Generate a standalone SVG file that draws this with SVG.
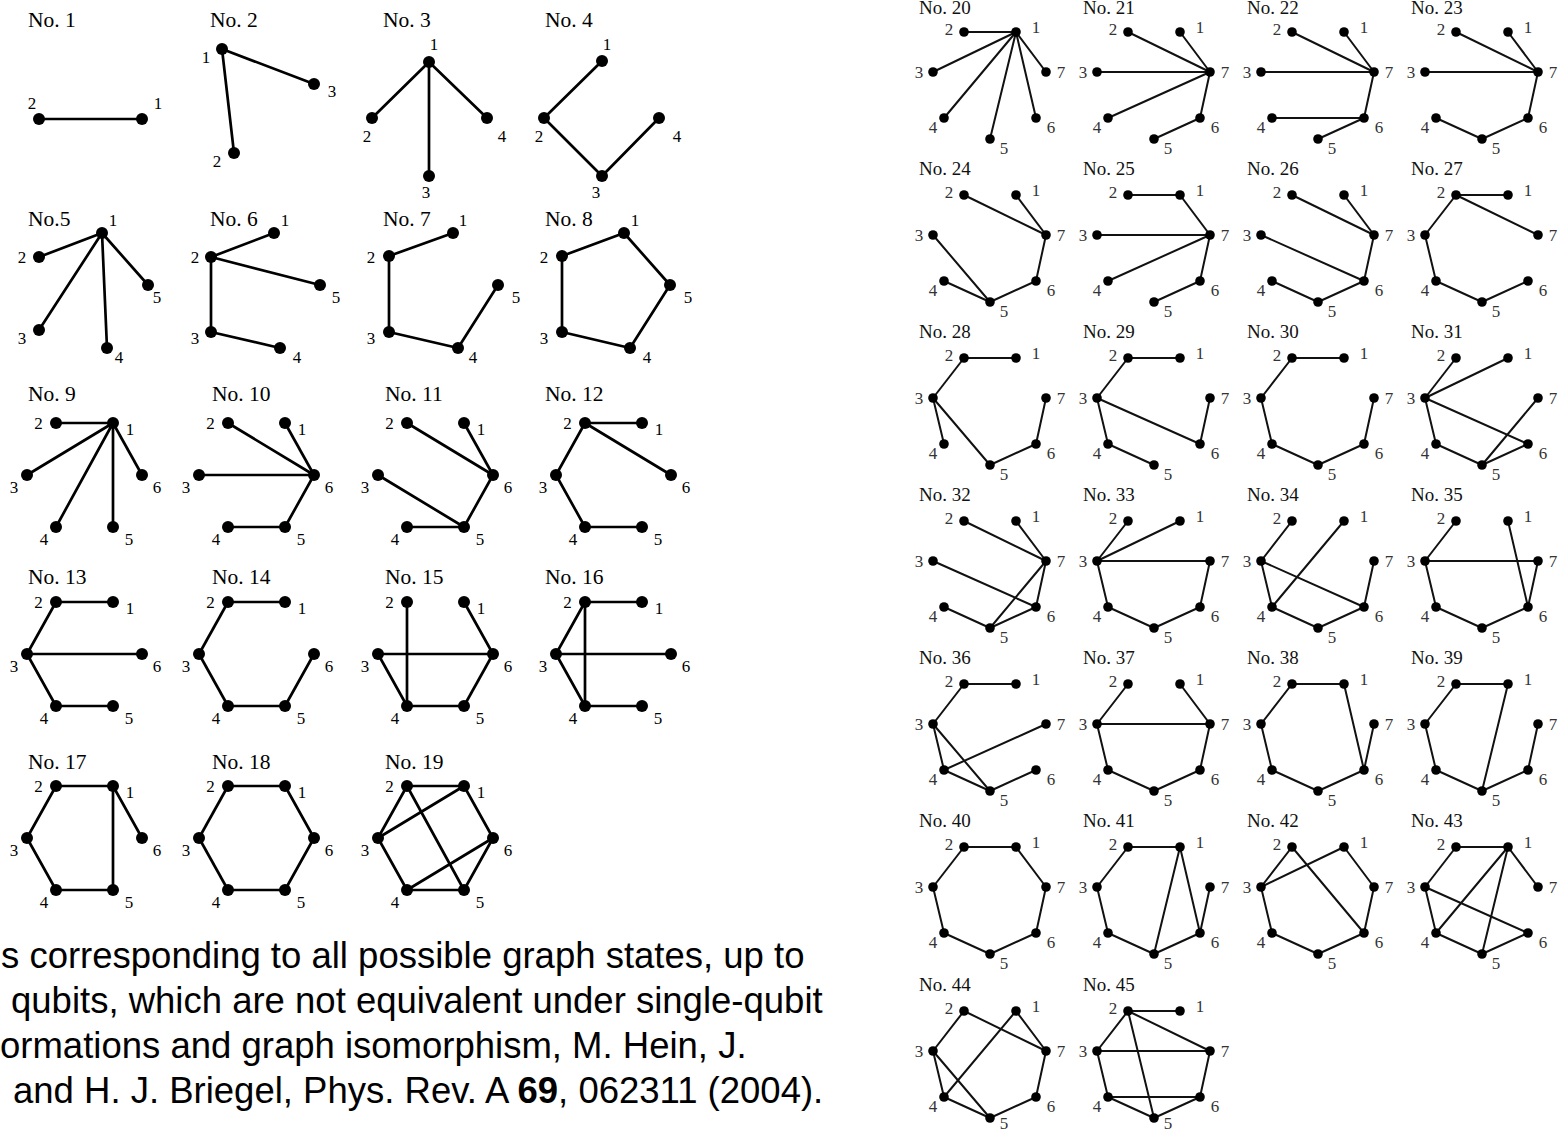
<svg xmlns="http://www.w3.org/2000/svg" width="1558" height="1130" viewBox="0 0 1558 1130">
<style>
text{font-family:"Liberation Serif","Times New Roman",serif}
.gl text{font-size:17px;text-anchor:middle;fill:#000}
.gl text.lab{font-size:21.5px;text-anchor:start}
.gl line{stroke:#000;stroke-width:2.7;stroke-linecap:round}
.gl circle{fill:#000}
.gr text{font-size:17px;text-anchor:middle;fill:#333}
.gr text.lab{font-size:19px;text-anchor:start;fill:#111}
.gr line{stroke:#111;stroke-width:2;stroke-linecap:round}
.gr circle{fill:#000}
.cap{font-family:"Liberation Sans",Arial,sans-serif;font-size:36.5px;fill:#000}
</style>
<rect width="1558" height="1130" fill="#fff"/>

<!-- ===== Left: graphs 1-8 (absolute coordinates) ===== -->
<g id="g1" class="gl">
<text class="lab" x="28" y="27">No. 1</text>
<g id="g1-edges"><line x1="39" y1="119" x2="142" y2="119"/></g>
<g id="g1-n2"><circle cx="39" cy="119" r="6"/><text x="32" y="109">2</text></g>
<g id="g1-n1"><circle cx="142" cy="119" r="6"/><text x="158" y="109">1</text></g>
</g>

<g id="g2" class="gl">
<text class="lab" x="210" y="27">No. 2</text>
<g id="g2-edges"><line x1="222" y1="49" x2="314" y2="84"/><line x1="222" y1="49" x2="234" y2="153"/></g>
<g id="g2-n1"><circle cx="222" cy="49" r="6"/><text x="206" y="63">1</text></g>
<g id="g2-n3"><circle cx="314" cy="84" r="6"/><text x="332" y="97">3</text></g>
<g id="g2-n2"><circle cx="234" cy="153" r="6"/><text x="217" y="167">2</text></g>
</g>

<g id="g3" class="gl">
<text class="lab" x="383" y="27">No. 3</text>
<g id="g3-edges"><line x1="429" y1="62" x2="372" y2="118"/><line x1="429" y1="62" x2="429" y2="176"/><line x1="429" y1="62" x2="487" y2="118"/></g>
<g id="g3-n1"><circle cx="429" cy="62" r="6"/><text x="434" y="50">1</text></g>
<g id="g3-n2"><circle cx="372" cy="118" r="6"/><text x="367" y="142">2</text></g>
<g id="g3-n4"><circle cx="487" cy="118" r="6"/><text x="502" y="142">4</text></g>
<g id="g3-n3"><circle cx="429" cy="176" r="6"/><text x="426" y="198">3</text></g>
</g>

<g id="g4" class="gl">
<text class="lab" x="545" y="27">No. 4</text>
<g id="g4-edges"><line x1="602" y1="61" x2="544" y2="118"/><line x1="544" y1="118" x2="602" y2="176"/><line x1="602" y1="176" x2="659" y2="118"/></g>
<g id="g4-n1"><circle cx="602" cy="61" r="6"/><text x="607" y="50">1</text></g>
<g id="g4-n2"><circle cx="544" cy="118" r="6"/><text x="539" y="142">2</text></g>
<g id="g4-n4"><circle cx="659" cy="118" r="6"/><text x="677" y="142">4</text></g>
<g id="g4-n3"><circle cx="602" cy="176" r="6"/><text x="596" y="198">3</text></g>
</g>

<g id="g5" class="gl">
<text class="lab" x="28" y="226">No.5</text>
<g id="g5-edges"><line x1="102" y1="233" x2="39" y2="257"/><line x1="102" y1="233" x2="39" y2="330"/><line x1="102" y1="233" x2="107" y2="348"/><line x1="102" y1="233" x2="148" y2="285"/></g>
<g id="g5-n1"><circle cx="102" cy="233" r="6"/><text x="113" y="226">1</text></g>
<g id="g5-n2"><circle cx="39" cy="257" r="6"/><text x="22" y="263">2</text></g>
<g id="g5-n5"><circle cx="148" cy="285" r="6"/><text x="157" y="303">5</text></g>
<g id="g5-n3"><circle cx="39" cy="330" r="6"/><text x="22" y="344">3</text></g>
<g id="g5-n4"><circle cx="107" cy="348" r="6"/><text x="119" y="363">4</text></g>
</g>

<g id="g6" class="gl">
<text class="lab" x="210" y="226">No. 6</text>
<g id="g6-edges"><line x1="211" y1="257" x2="274" y2="233"/><line x1="211" y1="257" x2="320" y2="285"/><line x1="211" y1="257" x2="211" y2="332"/><line x1="211" y1="332" x2="280" y2="348"/></g>
<g id="g6-n1"><circle cx="274" cy="233" r="6"/><text x="285" y="226">1</text></g>
<g id="g6-n2"><circle cx="211" cy="257" r="6"/><text x="195" y="263">2</text></g>
<g id="g6-n5"><circle cx="320" cy="285" r="6"/><text x="336" y="303">5</text></g>
<g id="g6-n3"><circle cx="211" cy="332" r="6"/><text x="195" y="344">3</text></g>
<g id="g6-n4"><circle cx="280" cy="348" r="6"/><text x="297" y="363">4</text></g>
</g>

<g id="g7" class="gl">
<text class="lab" x="383" y="226">No. 7</text>
<g id="g7-edges"><line x1="389" y1="256" x2="453" y2="233"/><line x1="389" y1="256" x2="389" y2="332"/><line x1="389" y1="332" x2="458" y2="348"/><line x1="458" y1="348" x2="498" y2="285"/></g>
<g id="g7-n1"><circle cx="453" cy="233" r="6"/><text x="463" y="226">1</text></g>
<g id="g7-n2"><circle cx="389" cy="256" r="6"/><text x="371" y="263">2</text></g>
<g id="g7-n5"><circle cx="498" cy="285" r="6"/><text x="516" y="303">5</text></g>
<g id="g7-n3"><circle cx="389" cy="332" r="6"/><text x="371" y="344">3</text></g>
<g id="g7-n4"><circle cx="458" cy="348" r="6"/><text x="473" y="363">4</text></g>
</g>

<g id="g8" class="gl">
<text class="lab" x="545" y="226">No. 8</text>
<g id="g8-edges"><line x1="624" y1="233" x2="562" y2="256"/><line x1="562" y1="256" x2="562" y2="332"/><line x1="562" y1="332" x2="630" y2="348"/><line x1="630" y1="348" x2="670" y2="285"/><line x1="670" y1="285" x2="624" y2="233"/></g>
<g id="g8-n1"><circle cx="624" cy="233" r="6"/><text x="635" y="226">1</text></g>
<g id="g8-n2"><circle cx="562" cy="256" r="6"/><text x="544" y="263">2</text></g>
<g id="g8-n5"><circle cx="670" cy="285" r="6"/><text x="688" y="303">5</text></g>
<g id="g8-n3"><circle cx="562" cy="332" r="6"/><text x="544" y="344">3</text></g>
<g id="g8-n4"><circle cx="630" cy="348" r="6"/><text x="647" y="363">4</text></g>
</g>

<!-- ===== Left: graphs 9-19 (6-node template) ===== -->
<g id="g9" class="gl" transform="translate(27 423)">
<text class="lab" x="1" y="-22">No. 9</text>
<g id="g9-edges"><line x1="86" y1="0" x2="29" y2="0"/><line x1="86" y1="0" x2="0" y2="52"/><line x1="86" y1="0" x2="29" y2="104"/><line x1="86" y1="0" x2="86" y2="104"/><line x1="86" y1="0" x2="115" y2="52"/></g>
<g id="g9-n1"><circle cx="86" cy="0" r="6"/><text x="103" y="12">1</text></g>
<g id="g9-n2"><circle cx="29" cy="0" r="6"/><text x="11.5" y="6">2</text></g>
<g id="g9-n3"><circle cx="0" cy="52" r="6"/><text x="-13" y="70">3</text></g>
<g id="g9-n4"><circle cx="29" cy="104" r="6"/><text x="17" y="122">4</text></g>
<g id="g9-n5"><circle cx="86" cy="104" r="6"/><text x="102" y="122">5</text></g>
<g id="g9-n6"><circle cx="115" cy="52" r="6"/><text x="130" y="70">6</text></g>
</g>

<g id="g10" class="gl" transform="translate(199 423)">
<text class="lab" x="13" y="-22">No. 10</text>
<g id="g10-edges"><line x1="115" y1="52" x2="29" y2="0"/><line x1="115" y1="52" x2="86" y2="0"/><line x1="115" y1="52" x2="0" y2="52"/><line x1="115" y1="52" x2="86" y2="104"/><line x1="86" y1="104" x2="29" y2="104"/></g>
<g id="g10-n1"><circle cx="86" cy="0" r="6"/><text x="103" y="12">1</text></g>
<g id="g10-n2"><circle cx="29" cy="0" r="6"/><text x="11.5" y="6">2</text></g>
<g id="g10-n3"><circle cx="0" cy="52" r="6"/><text x="-13" y="70">3</text></g>
<g id="g10-n4"><circle cx="29" cy="104" r="6"/><text x="17" y="122">4</text></g>
<g id="g10-n5"><circle cx="86" cy="104" r="6"/><text x="102" y="122">5</text></g>
<g id="g10-n6"><circle cx="115" cy="52" r="6"/><text x="130" y="70">6</text></g>
</g>

<g id="g11" class="gl" transform="translate(378 423)">
<text class="lab" x="7" y="-22">No. 11</text>
<g id="g11-edges"><line x1="29" y1="0" x2="115" y2="52"/><line x1="86" y1="0" x2="115" y2="52"/><line x1="0" y1="52" x2="86" y2="104"/><line x1="115" y1="52" x2="86" y2="104"/><line x1="29" y1="104" x2="86" y2="104"/></g>
<g id="g11-n1"><circle cx="86" cy="0" r="6"/><text x="103" y="12">1</text></g>
<g id="g11-n2"><circle cx="29" cy="0" r="6"/><text x="11.5" y="6">2</text></g>
<g id="g11-n3"><circle cx="0" cy="52" r="6"/><text x="-13" y="70">3</text></g>
<g id="g11-n4"><circle cx="29" cy="104" r="6"/><text x="17" y="122">4</text></g>
<g id="g11-n5"><circle cx="86" cy="104" r="6"/><text x="102" y="122">5</text></g>
<g id="g11-n6"><circle cx="115" cy="52" r="6"/><text x="130" y="70">6</text></g>
</g>

<g id="g12" class="gl" transform="translate(556 423)">
<text class="lab" x="-11" y="-22">No. 12</text>
<g id="g12-edges"><line x1="29" y1="0" x2="86" y2="0"/><line x1="29" y1="0" x2="115" y2="52"/><line x1="29" y1="0" x2="0" y2="52"/><line x1="0" y1="52" x2="29" y2="104"/><line x1="29" y1="104" x2="86" y2="104"/></g>
<g id="g12-n1"><circle cx="86" cy="0" r="6"/><text x="103" y="12">1</text></g>
<g id="g12-n2"><circle cx="29" cy="0" r="6"/><text x="11.5" y="6">2</text></g>
<g id="g12-n3"><circle cx="0" cy="52" r="6"/><text x="-13" y="70">3</text></g>
<g id="g12-n4"><circle cx="29" cy="104" r="6"/><text x="17" y="122">4</text></g>
<g id="g12-n5"><circle cx="86" cy="104" r="6"/><text x="102" y="122">5</text></g>
<g id="g12-n6"><circle cx="115" cy="52" r="6"/><text x="130" y="70">6</text></g>
</g>

<g id="g13" class="gl" transform="translate(27 602)">
<text class="lab" x="1" y="-18">No. 13</text>
<g id="g13-edges"><line x1="29" y1="0" x2="86" y2="0"/><line x1="29" y1="0" x2="0" y2="52"/><line x1="0" y1="52" x2="115" y2="52"/><line x1="0" y1="52" x2="29" y2="104"/><line x1="29" y1="104" x2="86" y2="104"/></g>
<g id="g13-n1"><circle cx="86" cy="0" r="6"/><text x="103" y="12">1</text></g>
<g id="g13-n2"><circle cx="29" cy="0" r="6"/><text x="11.5" y="6">2</text></g>
<g id="g13-n3"><circle cx="0" cy="52" r="6"/><text x="-13" y="70">3</text></g>
<g id="g13-n4"><circle cx="29" cy="104" r="6"/><text x="17" y="122">4</text></g>
<g id="g13-n5"><circle cx="86" cy="104" r="6"/><text x="102" y="122">5</text></g>
<g id="g13-n6"><circle cx="115" cy="52" r="6"/><text x="130" y="70">6</text></g>
</g>

<g id="g14" class="gl" transform="translate(199 602)">
<text class="lab" x="13" y="-18">No. 14</text>
<g id="g14-edges"><line x1="29" y1="0" x2="86" y2="0"/><line x1="29" y1="0" x2="0" y2="52"/><line x1="0" y1="52" x2="29" y2="104"/><line x1="29" y1="104" x2="86" y2="104"/><line x1="86" y1="104" x2="115" y2="52"/></g>
<g id="g14-n1"><circle cx="86" cy="0" r="6"/><text x="103" y="12">1</text></g>
<g id="g14-n2"><circle cx="29" cy="0" r="6"/><text x="11.5" y="6">2</text></g>
<g id="g14-n3"><circle cx="0" cy="52" r="6"/><text x="-13" y="70">3</text></g>
<g id="g14-n4"><circle cx="29" cy="104" r="6"/><text x="17" y="122">4</text></g>
<g id="g14-n5"><circle cx="86" cy="104" r="6"/><text x="102" y="122">5</text></g>
<g id="g14-n6"><circle cx="115" cy="52" r="6"/><text x="130" y="70">6</text></g>
</g>

<g id="g15" class="gl" transform="translate(378 602)">
<text class="lab" x="7" y="-18">No. 15</text>
<g id="g15-edges"><line x1="29" y1="0" x2="29" y2="104"/><line x1="86" y1="0" x2="115" y2="52"/><line x1="0" y1="52" x2="115" y2="52"/><line x1="0" y1="52" x2="29" y2="104"/><line x1="29" y1="104" x2="86" y2="104"/><line x1="86" y1="104" x2="115" y2="52"/></g>
<g id="g15-n1"><circle cx="86" cy="0" r="6"/><text x="103" y="12">1</text></g>
<g id="g15-n2"><circle cx="29" cy="0" r="6"/><text x="11.5" y="6">2</text></g>
<g id="g15-n3"><circle cx="0" cy="52" r="6"/><text x="-13" y="70">3</text></g>
<g id="g15-n4"><circle cx="29" cy="104" r="6"/><text x="17" y="122">4</text></g>
<g id="g15-n5"><circle cx="86" cy="104" r="6"/><text x="102" y="122">5</text></g>
<g id="g15-n6"><circle cx="115" cy="52" r="6"/><text x="130" y="70">6</text></g>
</g>

<g id="g16" class="gl" transform="translate(556 602)">
<text class="lab" x="-11" y="-18">No. 16</text>
<g id="g16-edges"><line x1="29" y1="0" x2="86" y2="0"/><line x1="29" y1="0" x2="0" y2="52"/><line x1="29" y1="0" x2="29" y2="104"/><line x1="0" y1="52" x2="115" y2="52"/><line x1="0" y1="52" x2="29" y2="104"/><line x1="29" y1="104" x2="86" y2="104"/></g>
<g id="g16-n1"><circle cx="86" cy="0" r="6"/><text x="103" y="12">1</text></g>
<g id="g16-n2"><circle cx="29" cy="0" r="6"/><text x="11.5" y="6">2</text></g>
<g id="g16-n3"><circle cx="0" cy="52" r="6"/><text x="-13" y="70">3</text></g>
<g id="g16-n4"><circle cx="29" cy="104" r="6"/><text x="17" y="122">4</text></g>
<g id="g16-n5"><circle cx="86" cy="104" r="6"/><text x="102" y="122">5</text></g>
<g id="g16-n6"><circle cx="115" cy="52" r="6"/><text x="130" y="70">6</text></g>
</g>

<g id="g17" class="gl" transform="translate(27 786)">
<text class="lab" x="1" y="-17">No. 17</text>
<g id="g17-edges"><line x1="29" y1="0" x2="86" y2="0"/><line x1="29" y1="0" x2="0" y2="52"/><line x1="0" y1="52" x2="29" y2="104"/><line x1="29" y1="104" x2="86" y2="104"/><line x1="86" y1="0" x2="86" y2="104"/><line x1="86" y1="0" x2="115" y2="52"/></g>
<g id="g17-n1"><circle cx="86" cy="0" r="6"/><text x="103" y="12">1</text></g>
<g id="g17-n2"><circle cx="29" cy="0" r="6"/><text x="11.5" y="6">2</text></g>
<g id="g17-n3"><circle cx="0" cy="52" r="6"/><text x="-13" y="70">3</text></g>
<g id="g17-n4"><circle cx="29" cy="104" r="6"/><text x="17" y="122">4</text></g>
<g id="g17-n5"><circle cx="86" cy="104" r="6"/><text x="102" y="122">5</text></g>
<g id="g17-n6"><circle cx="115" cy="52" r="6"/><text x="130" y="70">6</text></g>
</g>

<g id="g18" class="gl" transform="translate(199 786)">
<text class="lab" x="13" y="-17">No. 18</text>
<g id="g18-edges"><line x1="29" y1="0" x2="86" y2="0"/><line x1="29" y1="0" x2="0" y2="52"/><line x1="0" y1="52" x2="29" y2="104"/><line x1="29" y1="104" x2="86" y2="104"/><line x1="86" y1="104" x2="115" y2="52"/><line x1="115" y1="52" x2="86" y2="0"/></g>
<g id="g18-n1"><circle cx="86" cy="0" r="6"/><text x="103" y="12">1</text></g>
<g id="g18-n2"><circle cx="29" cy="0" r="6"/><text x="11.5" y="6">2</text></g>
<g id="g18-n3"><circle cx="0" cy="52" r="6"/><text x="-13" y="70">3</text></g>
<g id="g18-n4"><circle cx="29" cy="104" r="6"/><text x="17" y="122">4</text></g>
<g id="g18-n5"><circle cx="86" cy="104" r="6"/><text x="102" y="122">5</text></g>
<g id="g18-n6"><circle cx="115" cy="52" r="6"/><text x="130" y="70">6</text></g>
</g>

<g id="g19" class="gl" transform="translate(378 786)">
<text class="lab" x="7" y="-17">No. 19</text>
<g id="g19-edges"><line x1="29" y1="0" x2="86" y2="0"/><line x1="29" y1="0" x2="0" y2="52"/><line x1="29" y1="0" x2="86" y2="104"/><line x1="86" y1="0" x2="0" y2="52"/><line x1="86" y1="0" x2="115" y2="52"/><line x1="0" y1="52" x2="29" y2="104"/><line x1="29" y1="104" x2="86" y2="104"/><line x1="29" y1="104" x2="115" y2="52"/><line x1="86" y1="104" x2="115" y2="52"/></g>
<g id="g19-n1"><circle cx="86" cy="0" r="6"/><text x="103" y="12">1</text></g>
<g id="g19-n2"><circle cx="29" cy="0" r="6"/><text x="11.5" y="6">2</text></g>
<g id="g19-n3"><circle cx="0" cy="52" r="6"/><text x="-13" y="70">3</text></g>
<g id="g19-n4"><circle cx="29" cy="104" r="6"/><text x="17" y="122">4</text></g>
<g id="g19-n5"><circle cx="86" cy="104" r="6"/><text x="102" y="122">5</text></g>
<g id="g19-n6"><circle cx="115" cy="52" r="6"/><text x="130" y="70">6</text></g>
</g>

<!-- ===== Caption ===== -->
<g id="caption">
<text class="cap" x="1" y="968">s corresponding to all possible graph states, up to</text>
<text class="cap" x="11" y="1013">qubits, which are not equivalent under single-qubit</text>
<text class="cap" x="0" y="1058">ormations and graph isomorphism, M. Hein, J.</text>
<text class="cap" x="13" y="1103">and H. J. Briegel, Phys. Rev. A <tspan font-weight="bold">69</tspan>, 062311 (2004).</text>
</g>

<!-- ===== Right: graphs 20-45 (7-node template) ===== -->
<g id="g20" class="gr" transform="translate(933 32)">
<text class="lab" x="-14" y="-18">No. 20</text>
<g id="g20-edges"><line x1="83" y1="0" x2="31" y2="0"/><line x1="83" y1="0" x2="0" y2="40"/><line x1="83" y1="0" x2="11" y2="86"/><line x1="83" y1="0" x2="57" y2="107"/><line x1="83" y1="0" x2="103" y2="86"/><line x1="83" y1="0" x2="113" y2="40"/></g>
<g id="g20-n1"><circle cx="83" cy="0" r="4.8"/><text x="103" y="1">1</text></g>
<g id="g20-n2"><circle cx="31" cy="0" r="4.8"/><text x="16" y="3">2</text></g>
<g id="g20-n3"><circle cx="0" cy="40" r="4.8"/><text x="-14" y="46">3</text></g>
<g id="g20-n4"><circle cx="11" cy="86" r="4.8"/><text x="0" y="101">4</text></g>
<g id="g20-n5"><circle cx="57" cy="107" r="4.8"/><text x="71" y="122">5</text></g>
<g id="g20-n6"><circle cx="103" cy="86" r="4.8"/><text x="118" y="101">6</text></g>
<g id="g20-n7"><circle cx="113" cy="40" r="4.8"/><text x="128" y="46">7</text></g>
</g>

<g id="g21" class="gr" transform="translate(1097 32)">
<text class="lab" x="-14" y="-18">No. 21</text>
<g id="g21-edges"><line x1="31" y1="0" x2="113" y2="40"/><line x1="83" y1="0" x2="113" y2="40"/><line x1="0" y1="40" x2="113" y2="40"/><line x1="11" y1="86" x2="113" y2="40"/><line x1="103" y1="86" x2="113" y2="40"/><line x1="57" y1="107" x2="103" y2="86"/></g>
<g id="g21-n1"><circle cx="83" cy="0" r="4.8"/><text x="103" y="1">1</text></g>
<g id="g21-n2"><circle cx="31" cy="0" r="4.8"/><text x="16" y="3">2</text></g>
<g id="g21-n3"><circle cx="0" cy="40" r="4.8"/><text x="-14" y="46">3</text></g>
<g id="g21-n4"><circle cx="11" cy="86" r="4.8"/><text x="0" y="101">4</text></g>
<g id="g21-n5"><circle cx="57" cy="107" r="4.8"/><text x="71" y="122">5</text></g>
<g id="g21-n6"><circle cx="103" cy="86" r="4.8"/><text x="118" y="101">6</text></g>
<g id="g21-n7"><circle cx="113" cy="40" r="4.8"/><text x="128" y="46">7</text></g>
</g>

<g id="g22" class="gr" transform="translate(1261 32)">
<text class="lab" x="-14" y="-18">No. 22</text>
<g id="g22-edges"><line x1="31" y1="0" x2="113" y2="40"/><line x1="83" y1="0" x2="113" y2="40"/><line x1="0" y1="40" x2="113" y2="40"/><line x1="103" y1="86" x2="113" y2="40"/><line x1="11" y1="86" x2="103" y2="86"/><line x1="57" y1="107" x2="103" y2="86"/></g>
<g id="g22-n1"><circle cx="83" cy="0" r="4.8"/><text x="103" y="1">1</text></g>
<g id="g22-n2"><circle cx="31" cy="0" r="4.8"/><text x="16" y="3">2</text></g>
<g id="g22-n3"><circle cx="0" cy="40" r="4.8"/><text x="-14" y="46">3</text></g>
<g id="g22-n4"><circle cx="11" cy="86" r="4.8"/><text x="0" y="101">4</text></g>
<g id="g22-n5"><circle cx="57" cy="107" r="4.8"/><text x="71" y="122">5</text></g>
<g id="g22-n6"><circle cx="103" cy="86" r="4.8"/><text x="118" y="101">6</text></g>
<g id="g22-n7"><circle cx="113" cy="40" r="4.8"/><text x="128" y="46">7</text></g>
</g>

<g id="g23" class="gr" transform="translate(1425 32)">
<text class="lab" x="-14" y="-18">No. 23</text>
<g id="g23-edges"><line x1="31" y1="0" x2="113" y2="40"/><line x1="83" y1="0" x2="113" y2="40"/><line x1="0" y1="40" x2="113" y2="40"/><line x1="103" y1="86" x2="113" y2="40"/><line x1="57" y1="107" x2="103" y2="86"/><line x1="11" y1="86" x2="57" y2="107"/></g>
<g id="g23-n1"><circle cx="83" cy="0" r="4.8"/><text x="103" y="1">1</text></g>
<g id="g23-n2"><circle cx="31" cy="0" r="4.8"/><text x="16" y="3">2</text></g>
<g id="g23-n3"><circle cx="0" cy="40" r="4.8"/><text x="-14" y="46">3</text></g>
<g id="g23-n4"><circle cx="11" cy="86" r="4.8"/><text x="0" y="101">4</text></g>
<g id="g23-n5"><circle cx="57" cy="107" r="4.8"/><text x="71" y="122">5</text></g>
<g id="g23-n6"><circle cx="103" cy="86" r="4.8"/><text x="118" y="101">6</text></g>
<g id="g23-n7"><circle cx="113" cy="40" r="4.8"/><text x="128" y="46">7</text></g>
</g>

<g id="g24" class="gr" transform="translate(933 195)">
<text class="lab" x="-14" y="-20">No. 24</text>
<g id="g24-edges"><line x1="31" y1="0" x2="113" y2="40"/><line x1="83" y1="0" x2="113" y2="40"/><line x1="103" y1="86" x2="113" y2="40"/><line x1="57" y1="107" x2="103" y2="86"/><line x1="0" y1="40" x2="57" y2="107"/><line x1="11" y1="86" x2="57" y2="107"/></g>
<g id="g24-n1"><circle cx="83" cy="0" r="4.8"/><text x="103" y="1">1</text></g>
<g id="g24-n2"><circle cx="31" cy="0" r="4.8"/><text x="16" y="3">2</text></g>
<g id="g24-n3"><circle cx="0" cy="40" r="4.8"/><text x="-14" y="46">3</text></g>
<g id="g24-n4"><circle cx="11" cy="86" r="4.8"/><text x="0" y="101">4</text></g>
<g id="g24-n5"><circle cx="57" cy="107" r="4.8"/><text x="71" y="122">5</text></g>
<g id="g24-n6"><circle cx="103" cy="86" r="4.8"/><text x="118" y="101">6</text></g>
<g id="g24-n7"><circle cx="113" cy="40" r="4.8"/><text x="128" y="46">7</text></g>
</g>

<g id="g25" class="gr" transform="translate(1097 195)">
<text class="lab" x="-14" y="-20">No. 25</text>
<g id="g25-edges"><line x1="83" y1="0" x2="31" y2="0"/><line x1="83" y1="0" x2="113" y2="40"/><line x1="0" y1="40" x2="113" y2="40"/><line x1="11" y1="86" x2="113" y2="40"/><line x1="103" y1="86" x2="113" y2="40"/><line x1="57" y1="107" x2="103" y2="86"/></g>
<g id="g25-n1"><circle cx="83" cy="0" r="4.8"/><text x="103" y="1">1</text></g>
<g id="g25-n2"><circle cx="31" cy="0" r="4.8"/><text x="16" y="3">2</text></g>
<g id="g25-n3"><circle cx="0" cy="40" r="4.8"/><text x="-14" y="46">3</text></g>
<g id="g25-n4"><circle cx="11" cy="86" r="4.8"/><text x="0" y="101">4</text></g>
<g id="g25-n5"><circle cx="57" cy="107" r="4.8"/><text x="71" y="122">5</text></g>
<g id="g25-n6"><circle cx="103" cy="86" r="4.8"/><text x="118" y="101">6</text></g>
<g id="g25-n7"><circle cx="113" cy="40" r="4.8"/><text x="128" y="46">7</text></g>
</g>

<g id="g26" class="gr" transform="translate(1261 195)">
<text class="lab" x="-14" y="-20">No. 26</text>
<g id="g26-edges"><line x1="31" y1="0" x2="113" y2="40"/><line x1="83" y1="0" x2="113" y2="40"/><line x1="103" y1="86" x2="113" y2="40"/><line x1="0" y1="40" x2="103" y2="86"/><line x1="57" y1="107" x2="103" y2="86"/><line x1="11" y1="86" x2="57" y2="107"/></g>
<g id="g26-n1"><circle cx="83" cy="0" r="4.8"/><text x="103" y="1">1</text></g>
<g id="g26-n2"><circle cx="31" cy="0" r="4.8"/><text x="16" y="3">2</text></g>
<g id="g26-n3"><circle cx="0" cy="40" r="4.8"/><text x="-14" y="46">3</text></g>
<g id="g26-n4"><circle cx="11" cy="86" r="4.8"/><text x="0" y="101">4</text></g>
<g id="g26-n5"><circle cx="57" cy="107" r="4.8"/><text x="71" y="122">5</text></g>
<g id="g26-n6"><circle cx="103" cy="86" r="4.8"/><text x="118" y="101">6</text></g>
<g id="g26-n7"><circle cx="113" cy="40" r="4.8"/><text x="128" y="46">7</text></g>
</g>

<g id="g27" class="gr" transform="translate(1425 195)">
<text class="lab" x="-14" y="-20">No. 27</text>
<g id="g27-edges"><line x1="83" y1="0" x2="31" y2="0"/><line x1="31" y1="0" x2="113" y2="40"/><line x1="31" y1="0" x2="0" y2="40"/><line x1="0" y1="40" x2="11" y2="86"/><line x1="11" y1="86" x2="57" y2="107"/><line x1="57" y1="107" x2="103" y2="86"/></g>
<g id="g27-n1"><circle cx="83" cy="0" r="4.8"/><text x="103" y="1">1</text></g>
<g id="g27-n2"><circle cx="31" cy="0" r="4.8"/><text x="16" y="3">2</text></g>
<g id="g27-n3"><circle cx="0" cy="40" r="4.8"/><text x="-14" y="46">3</text></g>
<g id="g27-n4"><circle cx="11" cy="86" r="4.8"/><text x="0" y="101">4</text></g>
<g id="g27-n5"><circle cx="57" cy="107" r="4.8"/><text x="71" y="122">5</text></g>
<g id="g27-n6"><circle cx="103" cy="86" r="4.8"/><text x="118" y="101">6</text></g>
<g id="g27-n7"><circle cx="113" cy="40" r="4.8"/><text x="128" y="46">7</text></g>
</g>

<g id="g28" class="gr" transform="translate(933 358)">
<text class="lab" x="-14" y="-20">No. 28</text>
<g id="g28-edges"><line x1="83" y1="0" x2="31" y2="0"/><line x1="31" y1="0" x2="0" y2="40"/><line x1="0" y1="40" x2="11" y2="86"/><line x1="0" y1="40" x2="57" y2="107"/><line x1="57" y1="107" x2="103" y2="86"/><line x1="103" y1="86" x2="113" y2="40"/></g>
<g id="g28-n1"><circle cx="83" cy="0" r="4.8"/><text x="103" y="1">1</text></g>
<g id="g28-n2"><circle cx="31" cy="0" r="4.8"/><text x="16" y="3">2</text></g>
<g id="g28-n3"><circle cx="0" cy="40" r="4.8"/><text x="-14" y="46">3</text></g>
<g id="g28-n4"><circle cx="11" cy="86" r="4.8"/><text x="0" y="101">4</text></g>
<g id="g28-n5"><circle cx="57" cy="107" r="4.8"/><text x="71" y="122">5</text></g>
<g id="g28-n6"><circle cx="103" cy="86" r="4.8"/><text x="118" y="101">6</text></g>
<g id="g28-n7"><circle cx="113" cy="40" r="4.8"/><text x="128" y="46">7</text></g>
</g>

<g id="g29" class="gr" transform="translate(1097 358)">
<text class="lab" x="-14" y="-20">No. 29</text>
<g id="g29-edges"><line x1="83" y1="0" x2="31" y2="0"/><line x1="31" y1="0" x2="0" y2="40"/><line x1="0" y1="40" x2="103" y2="86"/><line x1="0" y1="40" x2="11" y2="86"/><line x1="11" y1="86" x2="57" y2="107"/><line x1="103" y1="86" x2="113" y2="40"/></g>
<g id="g29-n1"><circle cx="83" cy="0" r="4.8"/><text x="103" y="1">1</text></g>
<g id="g29-n2"><circle cx="31" cy="0" r="4.8"/><text x="16" y="3">2</text></g>
<g id="g29-n3"><circle cx="0" cy="40" r="4.8"/><text x="-14" y="46">3</text></g>
<g id="g29-n4"><circle cx="11" cy="86" r="4.8"/><text x="0" y="101">4</text></g>
<g id="g29-n5"><circle cx="57" cy="107" r="4.8"/><text x="71" y="122">5</text></g>
<g id="g29-n6"><circle cx="103" cy="86" r="4.8"/><text x="118" y="101">6</text></g>
<g id="g29-n7"><circle cx="113" cy="40" r="4.8"/><text x="128" y="46">7</text></g>
</g>

<g id="g30" class="gr" transform="translate(1261 358)">
<text class="lab" x="-14" y="-20">No. 30</text>
<g id="g30-edges"><line x1="83" y1="0" x2="31" y2="0"/><line x1="31" y1="0" x2="0" y2="40"/><line x1="0" y1="40" x2="11" y2="86"/><line x1="11" y1="86" x2="57" y2="107"/><line x1="57" y1="107" x2="103" y2="86"/><line x1="103" y1="86" x2="113" y2="40"/></g>
<g id="g30-n1"><circle cx="83" cy="0" r="4.8"/><text x="103" y="1">1</text></g>
<g id="g30-n2"><circle cx="31" cy="0" r="4.8"/><text x="16" y="3">2</text></g>
<g id="g30-n3"><circle cx="0" cy="40" r="4.8"/><text x="-14" y="46">3</text></g>
<g id="g30-n4"><circle cx="11" cy="86" r="4.8"/><text x="0" y="101">4</text></g>
<g id="g30-n5"><circle cx="57" cy="107" r="4.8"/><text x="71" y="122">5</text></g>
<g id="g30-n6"><circle cx="103" cy="86" r="4.8"/><text x="118" y="101">6</text></g>
<g id="g30-n7"><circle cx="113" cy="40" r="4.8"/><text x="128" y="46">7</text></g>
</g>

<g id="g31" class="gr" transform="translate(1425 358)">
<text class="lab" x="-14" y="-20">No. 31</text>
<g id="g31-edges"><line x1="31" y1="0" x2="0" y2="40"/><line x1="83" y1="0" x2="0" y2="40"/><line x1="0" y1="40" x2="103" y2="86"/><line x1="0" y1="40" x2="11" y2="86"/><line x1="11" y1="86" x2="57" y2="107"/><line x1="57" y1="107" x2="103" y2="86"/><line x1="57" y1="107" x2="113" y2="40"/></g>
<g id="g31-n1"><circle cx="83" cy="0" r="4.8"/><text x="103" y="1">1</text></g>
<g id="g31-n2"><circle cx="31" cy="0" r="4.8"/><text x="16" y="3">2</text></g>
<g id="g31-n3"><circle cx="0" cy="40" r="4.8"/><text x="-14" y="46">3</text></g>
<g id="g31-n4"><circle cx="11" cy="86" r="4.8"/><text x="0" y="101">4</text></g>
<g id="g31-n5"><circle cx="57" cy="107" r="4.8"/><text x="71" y="122">5</text></g>
<g id="g31-n6"><circle cx="103" cy="86" r="4.8"/><text x="118" y="101">6</text></g>
<g id="g31-n7"><circle cx="113" cy="40" r="4.8"/><text x="128" y="46">7</text></g>
</g>

<g id="g32" class="gr" transform="translate(933 521)">
<text class="lab" x="-14" y="-20">No. 32</text>
<g id="g32-edges"><line x1="31" y1="0" x2="113" y2="40"/><line x1="83" y1="0" x2="113" y2="40"/><line x1="103" y1="86" x2="113" y2="40"/><line x1="57" y1="107" x2="113" y2="40"/><line x1="0" y1="40" x2="103" y2="86"/><line x1="11" y1="86" x2="57" y2="107"/><line x1="57" y1="107" x2="103" y2="86"/></g>
<g id="g32-n1"><circle cx="83" cy="0" r="4.8"/><text x="103" y="1">1</text></g>
<g id="g32-n2"><circle cx="31" cy="0" r="4.8"/><text x="16" y="3">2</text></g>
<g id="g32-n3"><circle cx="0" cy="40" r="4.8"/><text x="-14" y="46">3</text></g>
<g id="g32-n4"><circle cx="11" cy="86" r="4.8"/><text x="0" y="101">4</text></g>
<g id="g32-n5"><circle cx="57" cy="107" r="4.8"/><text x="71" y="122">5</text></g>
<g id="g32-n6"><circle cx="103" cy="86" r="4.8"/><text x="118" y="101">6</text></g>
<g id="g32-n7"><circle cx="113" cy="40" r="4.8"/><text x="128" y="46">7</text></g>
</g>

<g id="g33" class="gr" transform="translate(1097 521)">
<text class="lab" x="-14" y="-20">No. 33</text>
<g id="g33-edges"><line x1="31" y1="0" x2="0" y2="40"/><line x1="83" y1="0" x2="0" y2="40"/><line x1="0" y1="40" x2="113" y2="40"/><line x1="0" y1="40" x2="11" y2="86"/><line x1="11" y1="86" x2="57" y2="107"/><line x1="57" y1="107" x2="103" y2="86"/><line x1="103" y1="86" x2="113" y2="40"/></g>
<g id="g33-n1"><circle cx="83" cy="0" r="4.8"/><text x="103" y="1">1</text></g>
<g id="g33-n2"><circle cx="31" cy="0" r="4.8"/><text x="16" y="3">2</text></g>
<g id="g33-n3"><circle cx="0" cy="40" r="4.8"/><text x="-14" y="46">3</text></g>
<g id="g33-n4"><circle cx="11" cy="86" r="4.8"/><text x="0" y="101">4</text></g>
<g id="g33-n5"><circle cx="57" cy="107" r="4.8"/><text x="71" y="122">5</text></g>
<g id="g33-n6"><circle cx="103" cy="86" r="4.8"/><text x="118" y="101">6</text></g>
<g id="g33-n7"><circle cx="113" cy="40" r="4.8"/><text x="128" y="46">7</text></g>
</g>

<g id="g34" class="gr" transform="translate(1261 521)">
<text class="lab" x="-14" y="-20">No. 34</text>
<g id="g34-edges"><line x1="31" y1="0" x2="0" y2="40"/><line x1="83" y1="0" x2="11" y2="86"/><line x1="0" y1="40" x2="103" y2="86"/><line x1="0" y1="40" x2="11" y2="86"/><line x1="11" y1="86" x2="57" y2="107"/><line x1="57" y1="107" x2="103" y2="86"/><line x1="103" y1="86" x2="113" y2="40"/></g>
<g id="g34-n1"><circle cx="83" cy="0" r="4.8"/><text x="103" y="1">1</text></g>
<g id="g34-n2"><circle cx="31" cy="0" r="4.8"/><text x="16" y="3">2</text></g>
<g id="g34-n3"><circle cx="0" cy="40" r="4.8"/><text x="-14" y="46">3</text></g>
<g id="g34-n4"><circle cx="11" cy="86" r="4.8"/><text x="0" y="101">4</text></g>
<g id="g34-n5"><circle cx="57" cy="107" r="4.8"/><text x="71" y="122">5</text></g>
<g id="g34-n6"><circle cx="103" cy="86" r="4.8"/><text x="118" y="101">6</text></g>
<g id="g34-n7"><circle cx="113" cy="40" r="4.8"/><text x="128" y="46">7</text></g>
</g>

<g id="g35" class="gr" transform="translate(1425 521)">
<text class="lab" x="-14" y="-20">No. 35</text>
<g id="g35-edges"><line x1="31" y1="0" x2="0" y2="40"/><line x1="0" y1="40" x2="113" y2="40"/><line x1="83" y1="0" x2="103" y2="86"/><line x1="103" y1="86" x2="113" y2="40"/><line x1="0" y1="40" x2="11" y2="86"/><line x1="11" y1="86" x2="57" y2="107"/><line x1="57" y1="107" x2="103" y2="86"/></g>
<g id="g35-n1"><circle cx="83" cy="0" r="4.8"/><text x="103" y="1">1</text></g>
<g id="g35-n2"><circle cx="31" cy="0" r="4.8"/><text x="16" y="3">2</text></g>
<g id="g35-n3"><circle cx="0" cy="40" r="4.8"/><text x="-14" y="46">3</text></g>
<g id="g35-n4"><circle cx="11" cy="86" r="4.8"/><text x="0" y="101">4</text></g>
<g id="g35-n5"><circle cx="57" cy="107" r="4.8"/><text x="71" y="122">5</text></g>
<g id="g35-n6"><circle cx="103" cy="86" r="4.8"/><text x="118" y="101">6</text></g>
<g id="g35-n7"><circle cx="113" cy="40" r="4.8"/><text x="128" y="46">7</text></g>
</g>

<g id="g36" class="gr" transform="translate(933 684)">
<text class="lab" x="-14" y="-20">No. 36</text>
<g id="g36-edges"><line x1="83" y1="0" x2="31" y2="0"/><line x1="31" y1="0" x2="0" y2="40"/><line x1="0" y1="40" x2="11" y2="86"/><line x1="0" y1="40" x2="57" y2="107"/><line x1="11" y1="86" x2="113" y2="40"/><line x1="11" y1="86" x2="57" y2="107"/><line x1="57" y1="107" x2="103" y2="86"/></g>
<g id="g36-n1"><circle cx="83" cy="0" r="4.8"/><text x="103" y="1">1</text></g>
<g id="g36-n2"><circle cx="31" cy="0" r="4.8"/><text x="16" y="3">2</text></g>
<g id="g36-n3"><circle cx="0" cy="40" r="4.8"/><text x="-14" y="46">3</text></g>
<g id="g36-n4"><circle cx="11" cy="86" r="4.8"/><text x="0" y="101">4</text></g>
<g id="g36-n5"><circle cx="57" cy="107" r="4.8"/><text x="71" y="122">5</text></g>
<g id="g36-n6"><circle cx="103" cy="86" r="4.8"/><text x="118" y="101">6</text></g>
<g id="g36-n7"><circle cx="113" cy="40" r="4.8"/><text x="128" y="46">7</text></g>
</g>

<g id="g37" class="gr" transform="translate(1097 684)">
<text class="lab" x="-14" y="-20">No. 37</text>
<g id="g37-edges"><line x1="31" y1="0" x2="0" y2="40"/><line x1="83" y1="0" x2="113" y2="40"/><line x1="0" y1="40" x2="113" y2="40"/><line x1="0" y1="40" x2="11" y2="86"/><line x1="11" y1="86" x2="57" y2="107"/><line x1="57" y1="107" x2="103" y2="86"/><line x1="103" y1="86" x2="113" y2="40"/></g>
<g id="g37-n1"><circle cx="83" cy="0" r="4.8"/><text x="103" y="1">1</text></g>
<g id="g37-n2"><circle cx="31" cy="0" r="4.8"/><text x="16" y="3">2</text></g>
<g id="g37-n3"><circle cx="0" cy="40" r="4.8"/><text x="-14" y="46">3</text></g>
<g id="g37-n4"><circle cx="11" cy="86" r="4.8"/><text x="0" y="101">4</text></g>
<g id="g37-n5"><circle cx="57" cy="107" r="4.8"/><text x="71" y="122">5</text></g>
<g id="g37-n6"><circle cx="103" cy="86" r="4.8"/><text x="118" y="101">6</text></g>
<g id="g37-n7"><circle cx="113" cy="40" r="4.8"/><text x="128" y="46">7</text></g>
</g>

<g id="g38" class="gr" transform="translate(1261 684)">
<text class="lab" x="-14" y="-20">No. 38</text>
<g id="g38-edges"><line x1="83" y1="0" x2="31" y2="0"/><line x1="31" y1="0" x2="0" y2="40"/><line x1="83" y1="0" x2="103" y2="86"/><line x1="0" y1="40" x2="11" y2="86"/><line x1="11" y1="86" x2="57" y2="107"/><line x1="57" y1="107" x2="103" y2="86"/><line x1="103" y1="86" x2="113" y2="40"/></g>
<g id="g38-n1"><circle cx="83" cy="0" r="4.8"/><text x="103" y="1">1</text></g>
<g id="g38-n2"><circle cx="31" cy="0" r="4.8"/><text x="16" y="3">2</text></g>
<g id="g38-n3"><circle cx="0" cy="40" r="4.8"/><text x="-14" y="46">3</text></g>
<g id="g38-n4"><circle cx="11" cy="86" r="4.8"/><text x="0" y="101">4</text></g>
<g id="g38-n5"><circle cx="57" cy="107" r="4.8"/><text x="71" y="122">5</text></g>
<g id="g38-n6"><circle cx="103" cy="86" r="4.8"/><text x="118" y="101">6</text></g>
<g id="g38-n7"><circle cx="113" cy="40" r="4.8"/><text x="128" y="46">7</text></g>
</g>

<g id="g39" class="gr" transform="translate(1425 684)">
<text class="lab" x="-14" y="-20">No. 39</text>
<g id="g39-edges"><line x1="83" y1="0" x2="31" y2="0"/><line x1="31" y1="0" x2="0" y2="40"/><line x1="83" y1="0" x2="57" y2="107"/><line x1="0" y1="40" x2="11" y2="86"/><line x1="11" y1="86" x2="57" y2="107"/><line x1="57" y1="107" x2="103" y2="86"/><line x1="103" y1="86" x2="113" y2="40"/></g>
<g id="g39-n1"><circle cx="83" cy="0" r="4.8"/><text x="103" y="1">1</text></g>
<g id="g39-n2"><circle cx="31" cy="0" r="4.8"/><text x="16" y="3">2</text></g>
<g id="g39-n3"><circle cx="0" cy="40" r="4.8"/><text x="-14" y="46">3</text></g>
<g id="g39-n4"><circle cx="11" cy="86" r="4.8"/><text x="0" y="101">4</text></g>
<g id="g39-n5"><circle cx="57" cy="107" r="4.8"/><text x="71" y="122">5</text></g>
<g id="g39-n6"><circle cx="103" cy="86" r="4.8"/><text x="118" y="101">6</text></g>
<g id="g39-n7"><circle cx="113" cy="40" r="4.8"/><text x="128" y="46">7</text></g>
</g>

<g id="g40" class="gr" transform="translate(933 847)">
<text class="lab" x="-14" y="-20">No. 40</text>
<g id="g40-edges"><line x1="83" y1="0" x2="31" y2="0"/><line x1="83" y1="0" x2="113" y2="40"/><line x1="103" y1="86" x2="113" y2="40"/><line x1="57" y1="107" x2="103" y2="86"/><line x1="11" y1="86" x2="57" y2="107"/><line x1="0" y1="40" x2="11" y2="86"/><line x1="31" y1="0" x2="0" y2="40"/></g>
<g id="g40-n1"><circle cx="83" cy="0" r="4.8"/><text x="103" y="1">1</text></g>
<g id="g40-n2"><circle cx="31" cy="0" r="4.8"/><text x="16" y="3">2</text></g>
<g id="g40-n3"><circle cx="0" cy="40" r="4.8"/><text x="-14" y="46">3</text></g>
<g id="g40-n4"><circle cx="11" cy="86" r="4.8"/><text x="0" y="101">4</text></g>
<g id="g40-n5"><circle cx="57" cy="107" r="4.8"/><text x="71" y="122">5</text></g>
<g id="g40-n6"><circle cx="103" cy="86" r="4.8"/><text x="118" y="101">6</text></g>
<g id="g40-n7"><circle cx="113" cy="40" r="4.8"/><text x="128" y="46">7</text></g>
</g>

<g id="g41" class="gr" transform="translate(1097 847)">
<text class="lab" x="-14" y="-20">No. 41</text>
<g id="g41-edges"><line x1="83" y1="0" x2="31" y2="0"/><line x1="31" y1="0" x2="0" y2="40"/><line x1="83" y1="0" x2="57" y2="107"/><line x1="83" y1="0" x2="103" y2="86"/><line x1="0" y1="40" x2="11" y2="86"/><line x1="11" y1="86" x2="57" y2="107"/><line x1="57" y1="107" x2="103" y2="86"/><line x1="103" y1="86" x2="113" y2="40"/></g>
<g id="g41-n1"><circle cx="83" cy="0" r="4.8"/><text x="103" y="1">1</text></g>
<g id="g41-n2"><circle cx="31" cy="0" r="4.8"/><text x="16" y="3">2</text></g>
<g id="g41-n3"><circle cx="0" cy="40" r="4.8"/><text x="-14" y="46">3</text></g>
<g id="g41-n4"><circle cx="11" cy="86" r="4.8"/><text x="0" y="101">4</text></g>
<g id="g41-n5"><circle cx="57" cy="107" r="4.8"/><text x="71" y="122">5</text></g>
<g id="g41-n6"><circle cx="103" cy="86" r="4.8"/><text x="118" y="101">6</text></g>
<g id="g41-n7"><circle cx="113" cy="40" r="4.8"/><text x="128" y="46">7</text></g>
</g>

<g id="g42" class="gr" transform="translate(1261 847)">
<text class="lab" x="-14" y="-20">No. 42</text>
<g id="g42-edges"><line x1="31" y1="0" x2="0" y2="40"/><line x1="31" y1="0" x2="103" y2="86"/><line x1="83" y1="0" x2="0" y2="40"/><line x1="83" y1="0" x2="113" y2="40"/><line x1="103" y1="86" x2="113" y2="40"/><line x1="0" y1="40" x2="11" y2="86"/><line x1="11" y1="86" x2="57" y2="107"/><line x1="57" y1="107" x2="103" y2="86"/></g>
<g id="g42-n1"><circle cx="83" cy="0" r="4.8"/><text x="103" y="1">1</text></g>
<g id="g42-n2"><circle cx="31" cy="0" r="4.8"/><text x="16" y="3">2</text></g>
<g id="g42-n3"><circle cx="0" cy="40" r="4.8"/><text x="-14" y="46">3</text></g>
<g id="g42-n4"><circle cx="11" cy="86" r="4.8"/><text x="0" y="101">4</text></g>
<g id="g42-n5"><circle cx="57" cy="107" r="4.8"/><text x="71" y="122">5</text></g>
<g id="g42-n6"><circle cx="103" cy="86" r="4.8"/><text x="118" y="101">6</text></g>
<g id="g42-n7"><circle cx="113" cy="40" r="4.8"/><text x="128" y="46">7</text></g>
</g>

<g id="g43" class="gr" transform="translate(1425 847)">
<text class="lab" x="-14" y="-20">No. 43</text>
<g id="g43-edges"><line x1="83" y1="0" x2="31" y2="0"/><line x1="31" y1="0" x2="0" y2="40"/><line x1="83" y1="0" x2="113" y2="40"/><line x1="83" y1="0" x2="11" y2="86"/><line x1="83" y1="0" x2="57" y2="107"/><line x1="0" y1="40" x2="11" y2="86"/><line x1="0" y1="40" x2="103" y2="86"/><line x1="11" y1="86" x2="57" y2="107"/><line x1="57" y1="107" x2="103" y2="86"/></g>
<g id="g43-n1"><circle cx="83" cy="0" r="4.8"/><text x="103" y="1">1</text></g>
<g id="g43-n2"><circle cx="31" cy="0" r="4.8"/><text x="16" y="3">2</text></g>
<g id="g43-n3"><circle cx="0" cy="40" r="4.8"/><text x="-14" y="46">3</text></g>
<g id="g43-n4"><circle cx="11" cy="86" r="4.8"/><text x="0" y="101">4</text></g>
<g id="g43-n5"><circle cx="57" cy="107" r="4.8"/><text x="71" y="122">5</text></g>
<g id="g43-n6"><circle cx="103" cy="86" r="4.8"/><text x="118" y="101">6</text></g>
<g id="g43-n7"><circle cx="113" cy="40" r="4.8"/><text x="128" y="46">7</text></g>
</g>

<g id="g44" class="gr" transform="translate(933 1011)">
<text class="lab" x="-14" y="-20">No. 44</text>
<g id="g44-edges"><line x1="31" y1="0" x2="0" y2="40"/><line x1="31" y1="0" x2="113" y2="40"/><line x1="83" y1="0" x2="113" y2="40"/><line x1="83" y1="0" x2="11" y2="86"/><line x1="0" y1="40" x2="11" y2="86"/><line x1="0" y1="40" x2="57" y2="107"/><line x1="11" y1="86" x2="57" y2="107"/><line x1="57" y1="107" x2="103" y2="86"/><line x1="103" y1="86" x2="113" y2="40"/></g>
<g id="g44-n1"><circle cx="83" cy="0" r="4.8"/><text x="103" y="1">1</text></g>
<g id="g44-n2"><circle cx="31" cy="0" r="4.8"/><text x="16" y="3">2</text></g>
<g id="g44-n3"><circle cx="0" cy="40" r="4.8"/><text x="-14" y="46">3</text></g>
<g id="g44-n4"><circle cx="11" cy="86" r="4.8"/><text x="0" y="101">4</text></g>
<g id="g44-n5"><circle cx="57" cy="107" r="4.8"/><text x="71" y="118">5</text></g>
<g id="g44-n6"><circle cx="103" cy="86" r="4.8"/><text x="118" y="101">6</text></g>
<g id="g44-n7"><circle cx="113" cy="40" r="4.8"/><text x="128" y="46">7</text></g>
</g>

<g id="g45" class="gr" transform="translate(1097 1011)">
<text class="lab" x="-14" y="-20">No. 45</text>
<g id="g45-edges"><line x1="83" y1="0" x2="31" y2="0"/><line x1="31" y1="0" x2="0" y2="40"/><line x1="31" y1="0" x2="113" y2="40"/><line x1="31" y1="0" x2="57" y2="107"/><line x1="0" y1="40" x2="113" y2="40"/><line x1="0" y1="40" x2="11" y2="86"/><line x1="11" y1="86" x2="103" y2="86"/><line x1="11" y1="86" x2="57" y2="107"/><line x1="57" y1="107" x2="103" y2="86"/><line x1="103" y1="86" x2="113" y2="40"/></g>
<g id="g45-n1"><circle cx="83" cy="0" r="4.8"/><text x="103" y="1">1</text></g>
<g id="g45-n2"><circle cx="31" cy="0" r="4.8"/><text x="16" y="3">2</text></g>
<g id="g45-n3"><circle cx="0" cy="40" r="4.8"/><text x="-14" y="46">3</text></g>
<g id="g45-n4"><circle cx="11" cy="86" r="4.8"/><text x="0" y="101">4</text></g>
<g id="g45-n5"><circle cx="57" cy="107" r="4.8"/><text x="71" y="118">5</text></g>
<g id="g45-n6"><circle cx="103" cy="86" r="4.8"/><text x="118" y="101">6</text></g>
<g id="g45-n7"><circle cx="113" cy="40" r="4.8"/><text x="128" y="46">7</text></g>
</g>
</svg>
